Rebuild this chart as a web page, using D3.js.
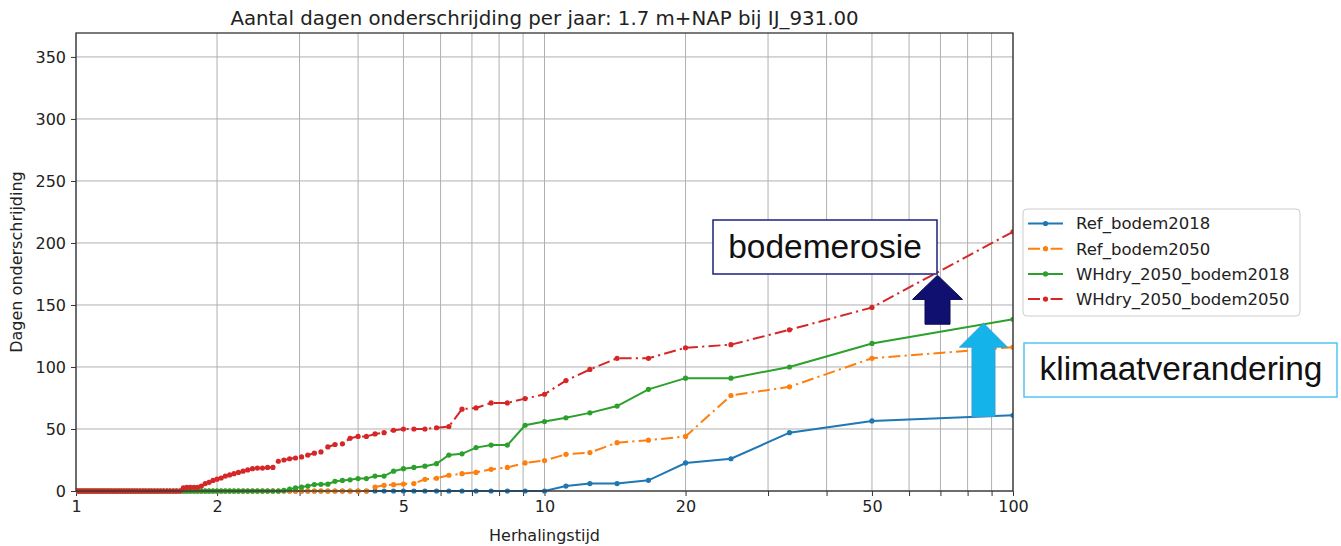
<!DOCTYPE html>
<html><head><meta charset="utf-8">
<script src="https://cdn.jsdelivr.net/npm/d3@7"></script>
<style>body{margin:0;background:#fff}svg{display:block}</style>
</head><body><svg id="c" width="1341" height="546"></svg>
<script>
// Herhalingstijd (return period) of each ranked point
const returnPeriod = [100,50,33.333,25,20,16.667,14.286,12.5,11.111,10,
9.091,8.333,7.692,7.143,6.667,6.25,5.882,5.556,5.263,5,
4.762,4.545,4.348,4.167,4,3.846,3.704,3.571,3.448,3.333,
3.226,3.125,3.030,2.941,2.857,2.778,2.703,2.632,2.564,2.5,
2.439,2.381,2.326,2.273,2.222,2.174,2.128,2.083,2.041,2,
1.961,1.923,1.887,1.852,1.818,1.786,1.754,1.724,1.695,1.667,
1.639,1.613,1.587,1.563,1.538,1.515,1.493,1.471,1.449,1.429,
1.408,1.389,1.370,1.351,1.333,1.316,1.299,1.282,1.266,1.25,
1.235,1.220,1.205,1.190,1.176,1.163,1.149,1.136,1.124,1.111,
1.099,1.087,1.075,1.064,1.053,1.042,1.031,1.020,1.010,1];

const refBodem2018 = [61,56.5,47,26,22.6,8.6,6,6,4,0,
0,0,0,0,0,0,0,0,0,0, 0,0,0,0,0,0,0,0,0,0,
0,0,0,0,0,0,0,0,0,0, 0,0,0,0,0,0,0,0,0,0,
0,0,0,0,0,0,0,0,0,0, 0,0,0,0,0,0,0,0,0,0,
0,0,0,0,0,0,0,0,0,0, 0,0,0,0,0,0,0,0,0,0,
0,0,0,0,0,0,0,0,0,0];

const refBodem2050 = [116,107,84,77,44,41,39,31,29.6,24.5,
22.6,19,17.5,15,14,12.7,10.3,9.4,6,5.6,
5.1,4.6,3.2,0,0,0,0,0,0,0, 0,0,0,0,0,0,0,0,0,0,
0,0,0,0,0,0,0,0,0,0, 0,0,0,0,0,0,0,0,0,0,
0,0,0,0,0,0,0,0,0,0, 0,0,0,0,0,0,0,0,0,0,
0,0,0,0,0,0,0,0,0,0, 0,0,0,0,0,0,0,0,0,0];

const whdry2050Bodem2018 = [138.5,119,100,91,91,82,68.5,63,59,56,
53,37,37,35,30,29,22,20,19,18,
16,12,12,10,10,9,8.5,7.8,5.5,5.4,
5.2,4,3.2,2.5,1.5,0.5,0,0,0,0,
0,0,0,0,0,0,0,0,0,0, 0,0,0,0,0,0,0,0,0,0,
0,0,0,0,0,0,0,0,0,0, 0,0,0,0,0,0,0,0,0,0,
0,0,0,0,0,0,0,0,0,0, 0,0,0,0,0,0,0,0,0,0];

const whdry2050Bodem2050 = [209,148,130,118,115.5,107,107,98,89,78,
74.5,71,71,67,66,52,51,50,50,50,
49,47,46,44,44,42.5,38,37.5,35.5,31.5,
30.5,29,27.5,26.6,26,25,24,19,19,18.5,
18.5,18,17,16,15,14,13,12,10.5,9.5,
8.5,7,6,4,3,3,3,3,2.5,0,
0,0,0,0,0,0,0,0,0,0, 0,0,0,0,0,0,0,0,0,0,
0,0,0,0,0,0,0,0,0,0, 0,0,0,0,0,0,0,0,0,0];

const seriesNames = ["Ref_bodem2018","Ref_bodem2050","WHdry_2050_bodem2018","WHdry_2050_bodem2050"];
const seriesValues = [refBodem2018, refBodem2050, whdry2050Bodem2018, whdry2050Bodem2050];
const seriesColors = ["#1f77b4","#ff7f0e","#2ca02c","#d62728"];
const seriesDashed = [false,true,false,true];

const xTickLabels = [1,2,5,10,20,50,100];
const xGridValues = [1,2,3,4,5,6,7,8,9,10,20,30,40,50,60,70,80,90,100];
const yTicks = [0,50,100,150,200,250,300,350];

const titleText = "Aantal dagen onderschrijding per jaar: 1.7 m+NAP bij IJ_931.00";
const xLabelText = "Herhalingstijd";
const yLabelText = "Dagen onderschrijding";

// annotations (data space anchors)
const erosionArrow = {T: 69, from: 134.5, head: 154.5, to: 174};
const climateArrow = {T: 86.5, from: 60, head: 116, to: 135.3};

const svg = d3.select("#c");
const font = "'DejaVu Sans', sans-serif";
const L = 76, R = 1013, T = 33, B = 491;
const x = d3.scaleLog().domain([1,100]).range([L,R]);
const y = d3.scaleLinear().domain([0,369.3]).range([B,T]);
const dash = "12,4.2,2.2,4.2";

svg.append("rect").attr("width",1341).attr("height",546).attr("fill","#fff");

// grid
const grid = svg.append("g").attr("stroke","#b0b0b0").attr("stroke-width",1);
grid.selectAll("line.gx").data(xGridValues).join("line")
  .attr("x1",d=>x(d)).attr("x2",d=>x(d)).attr("y1",T).attr("y2",B);
grid.selectAll("line.gy").data(yTicks).join("line")
  .attr("x1",L).attr("x2",R).attr("y1",d=>y(d)).attr("y2",d=>y(d));

// axes
const xAxis = d3.axisBottom(x).tickValues(xGridValues).tickSize(5).tickPadding(5)
  .tickFormat(d => xTickLabels.includes(d) ? String(d) : "");
const gx = svg.append("g").attr("transform",`translate(0,${B})`).call(xAxis);
const yAxis = d3.axisLeft(y).tickValues(yTicks).tickSize(5).tickPadding(5);
const gy = svg.append("g").attr("transform",`translate(${L},0)`).call(yAxis);
[gx,gy].forEach(g=>{
  g.select(".domain").remove();
  g.selectAll(".tick line").attr("stroke","#333").attr("stroke-width",1);
  g.selectAll(".tick text").attr("fill","#222").style("font-family",font).style("font-size","16px");
});

// lines
svg.append("clipPath").attr("id","clip").append("rect")
  .attr("x",L).attr("y",T-3).attr("width",R-L).attr("height",B-T+6);
const plot = svg.append("g").attr("clip-path","url(#clip)");
const line = d3.line().x(d=>x(d[0])).y(d=>y(d[1]));
seriesValues.forEach((vals,i)=>{
  const pts = vals.map((v,j)=>[returnPeriod[j], v]);
  plot.append("path").datum(pts).attr("d",line).attr("fill","none")
    .attr("stroke",seriesColors[i]).attr("stroke-width",2)
    .attr("stroke-dasharray", seriesDashed[i] ? dash : null);
  plot.append("g").selectAll("circle").data(pts).join("circle")
    .attr("cx",d=>x(d[0])).attr("cy",d=>y(d[1])).attr("r",2.6)
    .attr("fill",seriesColors[i]);
});

// frame
svg.append("rect").attr("x",L).attr("y",T).attr("width",R-L).attr("height",B-T)
  .attr("fill","none").attr("stroke","#333").attr("stroke-width",1.3);

// texts
svg.append("text").attr("x",(L+R)/2).attr("y",25).attr("text-anchor","middle")
  .style("font-family",font).style("font-size","19.8px").attr("fill","#222").text(titleText);
svg.append("text").attr("x",(L+R)/2).attr("y",541).attr("text-anchor","middle")
  .style("font-family",font).style("font-size","16px").attr("fill","#222").text(xLabelText);
svg.append("text").attr("transform",`translate(22,${(T+B)/2}) rotate(-90)`).attr("text-anchor","middle")
  .style("font-family",font).style("font-size","16px").attr("fill","#222").text(yLabelText);

// legend
const lg = svg.append("g");
lg.append("rect").attr("x",1023).attr("y",209).attr("width",277).attr("height",107).attr("rx",4)
  .attr("fill","#fff").attr("stroke","#ccc").attr("stroke-width",1);
seriesNames.forEach((n,i)=>{
  const yy = 223.5 + i*25.2;
  lg.append("line").attr("x1",1028).attr("x2",1063).attr("y1",yy).attr("y2",yy)
    .attr("stroke",seriesColors[i]).attr("stroke-width",2)
    .attr("stroke-dasharray", seriesDashed[i] ? dash : null);
  lg.append("circle").attr("cx",1045.5).attr("cy",yy).attr("r",2.6).attr("fill",seriesColors[i]);
  lg.append("text").attr("x",1076).attr("y",yy).attr("dy","0.36em")
    .style("font-family",font).style("font-size","16.5px").attr("fill","#222").text(n);
});

// arrows
function upArrow(a, shaftW, headW, fill, stroke){
  const cx = x(a.T), yb = y(a.from), yh = y(a.head), yt = y(a.to);
  const p = d3.path();
  p.moveTo(cx-shaftW/2, yb); p.lineTo(cx-shaftW/2, yh); p.lineTo(cx-headW/2, yh);
  p.lineTo(cx, yt); p.lineTo(cx+headW/2, yh); p.lineTo(cx+shaftW/2, yh);
  p.lineTo(cx+shaftW/2, yb); p.closePath();
  svg.append("path").attr("d",p.toString()).attr("fill",fill).attr("stroke",stroke).attr("stroke-width",1);
}
upArrow(erosionArrow, 25, 50, "#0f1070", "#0a0a55");
upArrow(climateArrow, 23, 48, "#14b4ea", "#3a9fd0");

// annotation boxes
const af = "'Liberation Sans', Arial, sans-serif";
svg.append("rect").attr("x",713).attr("y",220).attr("width",224).attr("height",54)
  .attr("fill","#fff").attr("stroke","#1c1f80").attr("stroke-width",1.5);
svg.append("text").attr("x",825).attr("y",258).attr("text-anchor","middle")
  .style("font-family",af).style("font-size","33.5px").attr("fill","#111").text("bodemerosie");
svg.append("rect").attr("x",1024).attr("y",343).attr("width",313).attr("height",54)
  .attr("fill","#fff").attr("stroke","#55c4f0").attr("stroke-width",1.5);
svg.append("text").attr("x",1181).attr("y",380).attr("text-anchor","middle")
  .style("font-family",af).style("font-size","33.5px").attr("fill","#111").text("klimaatverandering");
</script></body></html>
